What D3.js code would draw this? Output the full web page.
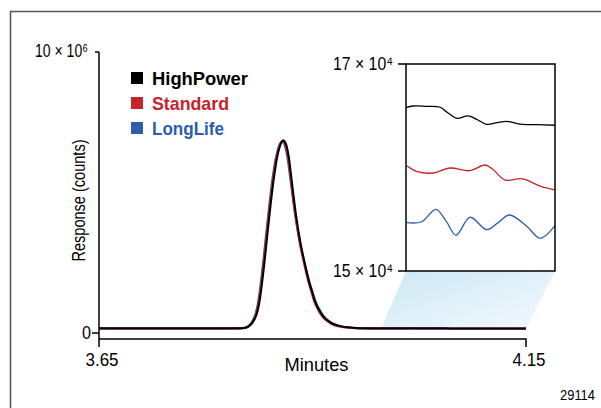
<!DOCTYPE html>
<html>
<head>
<meta charset="utf-8">
<script src="https://cdn.jsdelivr.net/npm/d3@7"></script>
<style>
  html, body { margin: 0; padding: 0; background: #fff; }
  svg { display: block; }
  text { font-family: "Liberation Sans", Arial, sans-serif; }
</style>
</head>
<body>
<svg id="chart" width="601" height="408"></svg>
<script>
// Retention time window (minutes) and response range of the main chromatogram
const xTicks = [3.65, 4.15];
const yDomain = [0, 10e6];
const yTopLabel = "10 × 10⁶";

// Zoomed baseline window
const zoomX = [3.98, 4.15];
const zoomY = [15e4, 17e4];
const zoomTickLabels = ["15 × 10⁴", "17 × 10⁴"];

const seriesNames = ["HighPower", "Standard", "LongLife"];
const seriesColors = ["#000000", "#c8222b", "#2c5eab"];

// Peak region [minutes, counts]
const highPowerPeak = [
  [3.650,166000],[3.700,166000],[3.760,166000],[3.8151,168000],[3.8198,180000],[3.8245,219000],
  [3.8292,344000],[3.8327,522000],[3.8350,700000],[3.8374,1020000],[3.8397,1483000],[3.8420,2052000],
  [3.8444,2693000],[3.8467,3369000],[3.8491,4045000],[3.8514,4685000],[3.8538,5291000],[3.8561,5789000],
  [3.8584,6216000],[3.8608,6536000],[3.8631,6750000],[3.8655,6856000],[3.8678,6803000],[3.8701,6607000],
  [3.8725,6216000],[3.8748,5646000],[3.8772,5041000],[3.8795,4472000],[3.8818,3974000],[3.8842,3511000],
  [3.8865,3120000],[3.8889,2764000],[3.8912,2444000],[3.8936,2123000],[3.8959,1839000],[3.8994,1483000],
  [3.9029,1130000],[3.9064,896000],[3.9100,700000],[3.9135,557000],[3.9182,433000],[3.9240,326000],
  [3.9322,244000],[3.9416,202000],[3.9556,173000],[3.970,167000]
];
const standardPeak = [
  [3.650,160000],[3.700,160000],[3.760,160000],[3.8143,162000],[3.8190,174000],[3.8237,213000],
  [3.8284,338000],[3.8319,516000],[3.8342,694000],[3.8366,1014000],[3.8389,1477000],[3.8412,2046000],
  [3.8436,2687000],[3.8459,3363000],[3.8483,4039000],[3.8506,4679000],[3.8530,5285000],[3.8553,5783000],
  [3.8576,6200000],[3.8600,6515000],[3.8623,6730000],[3.8647,6830000],[3.8670,6780000],[3.8693,6590000],
  [3.8717,6200000],[3.8740,5630000],[3.8764,5025000],[3.8787,4456000],[3.8810,3958000],[3.8834,3495000],
  [3.8857,3104000],[3.8881,2748000],[3.8904,2428000],[3.8928,2107000],[3.8951,1823000],[3.8986,1467000],
  [3.9021,1114000],[3.9056,880000],[3.9092,684000],[3.9127,541000],[3.9174,418000],[3.9232,312000],
  [3.9314,232000],[3.9408,192000],[3.9548,166000],[3.970,161000]
];
const longLifePeak = [
  [3.650,154000],[3.700,154000],[3.760,154000],[3.8135,156000],[3.8182,168000],[3.8229,208000],
  [3.8276,334000],[3.8311,515000],[3.8334,694000],[3.8358,1014000],[3.8381,1477000],[3.8404,2046000],
  [3.8428,2687000],[3.8451,3363000],[3.8475,4039000],[3.8498,4679000],[3.8522,5285000],[3.8545,5783000],
  [3.8568,6200000],[3.8592,6515000],[3.8615,6720000],[3.8639,6810000],[3.8662,6760000],[3.8685,6570000],
  [3.8709,6190000],[3.8734,5630000],[3.8760,5025000],[3.8785,4456000],[3.8810,3958000],[3.8836,3495000],
  [3.8861,3104000],[3.8887,2748000],[3.8912,2428000],[3.8938,2107000],[3.8963,1823000],[3.9000,1467000],
  [3.9037,1114000],[3.9074,880000],[3.9112,684000],[3.9149,541000],[3.9198,418000],[3.9258,312000],
  [3.9342,232000],[3.9440,185000],[3.9585,160000],[3.970,155000]
];

// Baseline noise after the peak [minutes, counts]
const highPowerTail = [
  [3.980,165780],[3.988,165940],[4.004,165900],[4.019,165820],[4.028,165270],[4.038,164750],
  [4.051,164980],[4.062,164590],[4.072,164170],[4.084,164330],[4.095,164460],[4.110,164200],
  [4.130,164140],[4.150,164080]
];
const standardTail = [
  [3.981,160170],[3.993,159590],[4.011,159470],[4.030,159950],[4.053,159690],[4.070,160240],
  [4.079,159830],[4.093,158790],[4.112,158920],[4.133,158210],[4.150,157830]
];
const longLifeTail = [
  [3.981,154670],[3.998,154760],[4.014,155960],[4.026,154800],[4.037,153450],[4.053,155190],
  [4.072,153990],[4.084,154600],[4.098,155410],[4.118,154300],[4.133,153160],[4.150,154380]
];

const series = [
  { name: seriesNames[2], color: seriesColors[2], values: longLifePeak.concat(longLifeTail) },
  { name: seriesNames[1], color: seriesColors[1], values: standardPeak.concat(standardTail) },
  { name: seriesNames[0], color: seriesColors[0], values: highPowerPeak.concat(highPowerTail) }
];
const tails = [
  { color: seriesColors[2], values: longLifeTail },
  { color: seriesColors[1], values: standardTail },
  { color: seriesColors[0], values: highPowerTail }
];

const svg = d3.select("#chart");

// condensed text: regular glyphs squeezed to a fixed advance
function label(sel, opts) {
  const t = sel.append("text")
    .attr("x", opts.x).attr("y", opts.y)
    .attr("font-size", opts.size)
    .attr("text-anchor", opts.anchor || "start")
    .text(opts.text);
  if (opts.width) t.attr("textLength", opts.width).attr("lengthAdjust", "spacingAndGlyphs");
  if (opts.weight) t.attr("font-weight", opts.weight);
  if (opts.fill) t.attr("fill", opts.fill);
  if (opts.transform) t.attr("transform", opts.transform);
  return t;
}

// outer frame
svg.append("rect")
  .attr("x", 10.5).attr("y", 11.5)
  .attr("width", 640).attr("height", 440)
  .attr("fill", "none").attr("stroke", "#555").attr("stroke-width", 1.5);

const x = d3.scaleLinear().domain(xTicks).range([99, 526]);
const y = d3.scaleLinear().domain(yDomain).range([333, 52]);

const zx = d3.scaleLinear().domain(zoomX).range([406, 555]);
const zy = d3.scaleLinear().domain(zoomY).range([271, 64]);

// gradient band linking the baseline window to the magnified panel
const defs = svg.append("defs");
const grad = defs.append("linearGradient").attr("id", "band")
  .attr("x1", "0").attr("y1", "0").attr("x2", "1").attr("y2", "1");
grad.append("stop").attr("offset", "0").attr("stop-color", "#cde8f6");
grad.append("stop").attr("offset", "1").attr("stop-color", "#f3f9fd");

svg.append("polygon")
  .attr("points", [
    [zx(zoomX[0]), zy(zoomY[0])],
    [zx(zoomX[1]), zy(zoomY[0])],
    [x(zoomX[1]), y(zoomY[0])],
    [x(zoomX[0]), y(zoomY[0])]
  ].map(p => p.join(",")).join(" "))
  .attr("fill", "url(#band)");

// main traces
const line = d3.line()
  .x(d => x(d[0])).y(d => y(d[1]))
  .curve(d3.curveMonotoneX);

svg.append("g").selectAll("path").data(series).join("path")
  .attr("d", d => line(d.values))
  .attr("fill", "none")
  .attr("stroke", d => d.color)
  .attr("stroke-width", 2)
  .attr("stroke-linejoin", "round");

// axes
const x0 = x(xTicks[0]);
const axisG = svg.append("g").attr("stroke", "#000").attr("stroke-width", 1.5).attr("fill", "none");
axisG.append("path").attr("d", `M${x0},${y(yDomain[1])}V${y(0) + 14}`);
axisG.append("path").attr("d", `M${x0},${y(0) + 6}H${x(xTicks[1])}V${y(0) + 14}`);
axisG.append("path").attr("d", `M${x0 - 7},${y(0)}H${x0}`);
axisG.append("path").attr("d", `M${x0 - 4},${y(yDomain[1])}H${x0}`);

const labelSize = 19;
label(svg, { x: x0 - 8, y: y(0) + 6, size: labelSize, anchor: "end", text: "0", width: 9 });
label(svg, { x: x0 - 11, y: y(yDomain[1]) + 5, size: labelSize, anchor: "end", text: yTopLabel, width: 53 });

xTicks.forEach(t => {
  label(svg, { x: x(t) + 3, y: y(0) + 33, size: labelSize, anchor: "middle",
               text: d3.format(".2f")(t), width: 33 });
});

label(svg, { x: (x0 + x(xTicks[1])) / 2 + 4, y: y(0) + 38, size: labelSize, anchor: "middle",
             text: "Minutes", width: 64 });

label(svg, { x: 0, y: 0, size: labelSize, anchor: "middle", text: "Response (counts)", width: 122,
             transform: `translate(85,${(y(0) + y(yDomain[1])) / 2 + 8}) rotate(-90)` });

// legend
const legend = svg.append("g").attr("transform", "translate(131,72)");
const legendWidths = [96, 77, 72];
seriesNames.forEach((n, i) => {
  const g = legend.append("g").attr("transform", `translate(0,${i * 25})`);
  g.append("rect").attr("width", 12).attr("height", 12).attr("fill", seriesColors[i]);
  label(g, { x: 21, y: 12.5, size: 19, weight: "bold", fill: seriesColors[i], text: n,
             width: legendWidths[i] });
});

// magnified baseline panel
const zline = d3.line()
  .x(d => zx(d[0])).y(d => zy(d[1]))
  .curve(d3.curveCatmullRom.alpha(0.5));

svg.append("rect")
  .attr("x", zx(zoomX[0])).attr("y", zy(zoomY[1]))
  .attr("width", zx(zoomX[1]) - zx(zoomX[0]))
  .attr("height", zy(zoomY[0]) - zy(zoomY[1]))
  .attr("fill", "#fff");

svg.append("g").selectAll("path").data(tails).join("path")
  .attr("d", d => zline(d.values))
  .attr("fill", "none")
  .attr("stroke", d => d.color)
  .attr("stroke-width", 1.3);

svg.append("rect")
  .attr("x", zx(zoomX[0])).attr("y", zy(zoomY[1]))
  .attr("width", zx(zoomX[1]) - zx(zoomX[0]))
  .attr("height", zy(zoomY[0]) - zy(zoomY[1]))
  .attr("fill", "none").attr("stroke", "#000").attr("stroke-width", 1.5);

const zx0 = zx(zoomX[0]);
zoomY.forEach((v, i) => {
  svg.append("path")
    .attr("d", `M${zx0 - 8},${zy(v)}H${zx0}`)
    .attr("stroke", "#000").attr("stroke-width", 1.5);
  label(svg, { x: zx0 - 13, y: zy(v) + 6, size: labelSize, anchor: "end",
               text: zoomTickLabels[i], width: 60 });
});

// figure number
label(svg, { x: 595, y: 400, size: 15, anchor: "end", text: "29114", width: 35 });
</script>
</body>
</html>
